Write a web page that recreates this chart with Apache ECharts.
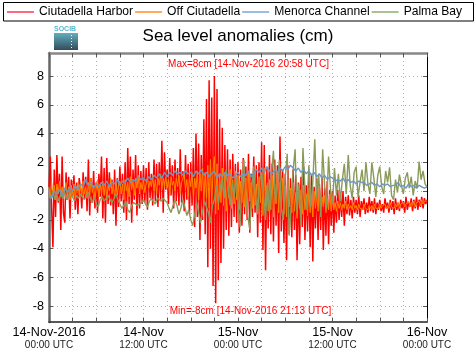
<!DOCTYPE html>
<html><head><meta charset="utf-8">
<script src="https://cdn.jsdelivr.net/npm/echarts@6/dist/echarts.min.js"></script>
<style>html,body{margin:0;padding:0;background:#fff}#c{width:476px;height:359px}</style>
</head><body><div id="c"></div>
<script>
// hours since 14-Nov-2016 00:00 UTC; values in cm
const seriesNames = ['Ciutadella Harbor', 'Off Ciutadella', 'Menorca Channel', 'Palma Bay'];
const sampleMinutes = [10, 10, 20, 15];

const ciutadellaHarbor = [
 0.3, 2.4, -1.2, -3.9, 1.5, -1.8,
 2.5, -0.8, 1.2, -2.7, 2.4, -1.5,
 -2.2, 1.3, -0.6, 1.0, -1.9, 0.8,
 -0.4, 1.1, -1.3, 0.6, -1.6, 0.9,
 0.2, -1.2, 1.3, -0.5, 1.0, -1.4,
 2.2, -1.7, 0.9, -0.8, 1.4, -1.2,
 0.6, -1.5, 1.2, -0.4, 2.4, -1.9,
 1.6, -2.2, 2.3, -0.9, 1.3, -1.0,
 0.8, -1.6, 1.5, -2.4, 0.9, -1.1,
 1.7, -0.7, 1.2, -1.5, 2.0, -2.0,
 3.0, -0.9, 2.4, -2.2, 1.5, -0.6,
 2.5, -1.7, 1.8, -1.2, 1.4, -0.9,
 1.8, -0.8, 1.6, -1.3, 2.0, -0.5,
 1.2, -1.0, 2.2, -0.7, 1.9, -1.1,
 2.0, -0.6, 3.5, -1.5, 2.7, 0.1,
 1.5, -0.9, 2.3, -0.3, 1.8, -1.2,
 2.2, -0.7, 1.6, -1.0, 2.9, -0.8,
 1.4, -1.4, 2.5, -0.6, 1.9, -1.6,
 2.0, -1.0, 3.0, -2.5, 4.0, -1.8,
 3.3, -3.4, 2.5, -2.0, 5.0, -3.0,
 6.4, -5.3, 7.7, -4.0, 6.5, -6.6,
 8.0, -7.8, 7.1, -6.2, 5.0, -5.0,
 4.4, -4.0, 3.2, -2.7, 2.9, -3.1,
 2.2, -2.5, 2.6, -1.8, 1.9, -2.2,
 2.0, -2.9, 1.5, -2.4, 2.3, -1.6,
 1.7, -2.0, 2.6, -2.9, 1.2, -1.8,
 2.4, -1.5, 1.8, -3.2, 2.0, -2.2,
 3.4, -4.1, 3.2, -5.5, 1.6, -2.6,
 2.5, -3.0, 1.9, -3.5, 2.2, -2.4,
 1.8, -4.3, 3.8, -2.8, 1.5, -3.6,
 1.2, -4.8, 1.8, -3.0, 0.9, -3.2,
 1.5, -2.7, 1.1, -4.8, 0.6, -3.7,
 1.0, -2.5, 1.7, -3.4, 0.4, -2.8,
 0.8, -3.9, 1.2, -4.9, 0.3, -2.6,
 0.9, -3.4, 0.5, -2.7, 1.0, -4.1,
 0.2, -3.1, 0.7, -3.7, 0.1, -2.4,
 0.0, -2.9, -0.3, -2.2, 0.1, -2.0,
 -0.2, -1.8, 0.0, -2.4, -0.4, -1.6,
 -0.3, -1.7, -0.6, -1.9, -0.4, -1.5,
 -0.6, -1.6, -0.3, -1.8, -0.7, -1.3,
 -0.5, -1.6, -0.8, -1.5, -0.4, -1.4,
 -0.7, -1.5, -0.5, -1.6, -0.8, -1.3,
 -0.6, -1.4, -0.9, -1.5, -0.5, -1.2,
 -0.8, -1.5, -0.6, -1.3, -0.7, -1.6,
 -0.5, -1.3, -0.8, -1.4, -0.6, -1.2,
 -0.7, -1.5, -0.4, -1.3, -0.8, -1.1,
 -0.5, -1.4, -0.6, -1.2, -0.4, -1.3,
 -0.6, -1.1, -0.4, -1.2, -0.5, -0.9,
 -0.6
];

const offCiutadella = [
 0.2, -0.5, 0.6, -0.3, 0.4, -0.6,
 0.5, -0.2, 0.7, -0.4, 0.3, -0.5,
 0.1, 0.6, -0.4, 0.3, -0.6, 0.4,
 -0.2, 0.5, -0.5, 0.2, 0.6, -0.3,
 0.4, -0.4, 0.7, -0.2, 0.3, -0.5,
 0.6, -0.3, 0.9, -0.1, 0.4, -0.6,
 0.2, 0.8, -0.4, 0.5, -0.2, 0.7,
 -0.3, 0.6, -0.6, 0.4, 0.0, 0.9,
 -0.2, 0.5, -0.5, 0.6, -0.3, 0.4,
 0.7, -0.2, 0.5, -0.6, 0.8, 0.0,
 0.6, -0.4, 1.0, 0.1, 0.7, -0.3,
 0.9, 0.2, 1.1, -0.2, 0.6, 0.1,
 0.8, -0.1, 0.5, 1.0, 0.2, 0.7,
 0.3, 1.1, 0.0, 0.8, -0.2, 0.9,
 0.4, 1.2, 0.1, 0.9, 0.3, 1.0,
 0.2, 0.8, -0.3, 1.0, 0.4, 0.7,
 0.0, 0.9, 0.3, 1.1, -0.2, 0.6,
 0.5, 1.2, 0.1, 0.8, -0.4, 1.0,
 0.3, 1.3, -0.5, 0.9, 0.2, 1.4,
 -0.6, 1.2, 0.0, 1.6, -0.8, 1.3,
 -0.5, 1.8, -1.2, 2.2, -0.9, 1.5,
 2.4, -1.6, 1.9, -1.3, 1.2, -0.8,
 1.6, -1.0, 1.3, -1.4, 0.9, -0.5,
 1.5, -1.2, 0.8, -0.9, 1.4, -0.6,
 1.1, -1.3, 0.7, -0.8, 1.2, -1.1,
 0.9, -1.5, 1.3, -0.7, 0.6, -1.2,
 1.4, -1.0, 0.5, -1.6, 1.0, -0.8,
 1.2, -1.7, 1.6, -1.1, 0.4, -1.4,
 0.8, -1.3, 1.1, -1.8, 0.5, -0.9,
 1.3, -1.5, 0.6, -1.2, 0.9, -1.6,
 0.4, -1.8, 0.8, -1.1, 0.2, -1.5,
 0.6, -1.4, -0.1, -1.9, 0.3, -1.2,
 0.1, -1.6, 0.4, -1.3, -0.2, -1.7,
 0.2, -1.5, -0.3, -1.8, 0.0, -1.2,
 -0.2, -1.4, 0.1, -1.6, -0.4, -1.1,
 -0.3, -1.5, -0.5, -1.3, -0.2, -1.4,
 -0.6, -1.3, -0.8, -1.4, -0.7, -1.2,
 -0.8, -1.3, -0.9, -1.2, -0.7, -1.3,
 -0.9, -1.2, -1.0, -1.3, -0.8, -1.2,
 -1.0, -1.3, -0.9, -1.2, -1.1, -1.3,
 -0.9, -1.2, -1.1, -1.3, -1.0, -1.2,
 -1.0, -1.3, -0.9, -1.2, -1.1, -1.2,
 -0.9, -1.2, -1.0, -1.1, -0.9, -1.2,
 -1.0, -1.2, -0.8, -1.1, -1.0, -1.2,
 -0.9, -1.1, -0.8, -1.2, -0.9, -1.0,
 -0.8, -1.1, -0.9, -1.0, -0.7, -1.1,
 -0.8, -1.0, -0.7, -1.1, -0.8, -0.9,
 -0.7, -1.0, -0.6, -0.9, -0.7, -0.8,
 -0.7
];

const menorcaChannel = [
 -0.3, -0.5, 0.0,  -0.2, 0.1, -0.3,  0.2, -0.1, 0.3,  0.0, 0.4, 0.1,
 0.5, 0.3, 0.8,  0.4, 0.6, 0.2,  0.5, 0.3, 0.6,  0.4, 0.7, 0.3,
 0.6, 0.5, 0.8,  0.4, 0.7, 0.6,  0.9, 0.6, 0.8,  0.7, 1.0, 0.8,
 0.9, 0.7, 1.0,  0.8, 1.1, 0.9,  1.2, 0.9, 1.3,  1.0, 1.3, 1.1,
 1.4, 1.2, 1.3,  1.1, 1.4, 1.2,  1.3, 1.0, 1.4,  1.2, 1.5, 1.1,
 1.3, 1.0, 1.2,  1.4, 0.9, 1.2,  1.0, 1.3, 1.1,  1.2, 0.9, 1.1,
 1.3, 1.0, 1.2,  1.1, 1.4, 1.0,  1.2, 1.5, 1.3,  1.6, 1.3, 1.7,
 1.4, 1.2, 1.5,  1.3, 1.6, 1.4,  1.7, 1.5, 1.8,  1.6, 1.4, 1.6,
 1.3, 1.5, 1.2,  1.4, 1.1, 1.3,  1.0, 1.2, 0.9,  1.1, 0.8, 1.0,
 0.9, 0.7, 0.8,  0.7, 0.9, 0.6,  0.8, 0.6, 0.7,  0.5, 0.7, 0.6,
 0.6, 0.4, 0.5,  0.6, 0.4, 0.5,  0.3, 0.5, 0.4,  0.5, 0.3, 0.4,
 0.4, 0.6, 0.3,  0.4, 0.2, 0.5,  0.3, 0.4, 0.2,  0.4, 0.3, 0.2,
 0.3
];

const palmaBay = [
 -0.2, -0.5, 0.0, -0.6,
 -0.3, -0.7, -0.2, -0.5,
 -0.1, -0.6, -0.3, 0.0,
 -0.4, -0.7, -0.3, -0.5,
 -0.2, -0.4, -0.6, -0.3,
 -0.1, -0.5, -0.8, -0.4,
 -0.9, -1.1, -0.6, -0.4,
 -0.7, -0.5, -0.3, -0.6,
 -0.8, -0.5, -0.2, -0.6,
 -0.9, -1.2, -1.0, -0.7,
 -1.3, -1.5, -1.0, -0.8,
 -0.7, -1.0, -1.1, -0.8,
 -0.6, -0.9, -1.1, -0.7,
 -0.5, -0.6, -0.9, -0.5,
 -0.4, -0.7, -0.5, -0.6,
 -0.8, -1.2, -1.5, -1.0,
 -0.6, -1.0, -1.6, -1.2,
 -0.6, -1.1, -1.7, -1.3,
 -2.0, -2.4, -1.6, -0.8,
 -1.5, -2.2, -1.4, -0.7,
 -0.8, -1.5, -2.2, -1.0,
 -0.6, 0.4, -0.9, 0.3,
 0.8, -0.5, 1.5, 0.2,
 -1.0, 0.6, -0.4, 1.0,
 -0.8, -2.5, 0.5, 2.2,
 -0.6, -1.8, -2.7, 0.4,
 1.7, -0.5, -1.6, 0.8,
 1.3, -0.3, -2.0, 0.6,
 -1.5, 1.2, 2.8, -0.8,
 0.5, 2.2, -1.2, -2.0,
 0.9, 2.6, -3.1, -1.0,
 1.4, 2.9, -1.5, 0.5,
 -2.4, 3.0, 0.2, -1.3,
 1.8, -1.1, 0.6, 3.6,
 -0.5, 1.2, -1.8, 2.9,
 0.4, -1.2, 2.4, 0.1,
 -0.9, 1.6, -0.3, 1.2,
 -0.7, 0.8, 1.9, -0.2,
 2.5, 0.4, -0.5, 1.3,
 1.7, -0.4, 0.6, 1.5,
 0.0, 2.0, 0.5, -0.2,
 2.0, 0.9, -0.4, 1.1,
 1.7, 0.3, -0.2, 1.4,
 0.6, 1.65, -0.3, -0.6,
 0.8, -0.1, 1.15, 0.4,
 -0.2, 0.9, 1.3, 0.2,
 1.0, -0.3, 0.7, 0.2,
 2.05, 0.8, 1.4, 0.5,
 0.3
];

const yTickValues = [-8, -6, -4, -2, 0, 2, 4, 6, 8];
const xLabelHours = [0, 12, 24, 36, 48];
const xLabelDates = ['14-Nov-2016', '14-Nov', '15-Nov', '15-Nov', '16-Nov'];
const xLabelTimes = ['00:00 UTC', '12:00 UTC', '00:00 UTC', '12:00 UTC', '00:00 UTC'];
const maxText = 'Max=8cm [14-Nov-2016 20:58 UTC]';
const minText = 'Min=-8cm [14-Nov-2016 21:13 UTC]';

const FONT = '"Liberation Sans", Arial, Helvetica, sans-serif';
const lineColors = ['#ff0000', '#ff8400', '#6f97c2', '#8a9a58'];
const legendColors = ['#ff6a80', '#ffac5c', '#9dbde0', '#a9c492'];
const lineWidths = [1.5, 1, 1.4, 1.4];

function toPairs(values, stepMin) {
  return values.map((v, i) => [i * stepMin / 60, v]);
}
const allValues = [ciutadellaHarbor, offCiutadella, menorcaChannel, palmaBay];
const drawOrder = [0, 1, 3, 2];

const chart = echarts.init(document.getElementById('c'), null, {renderer: 'canvas'});
const yMin = -9.1, yMax = 9.6;

const option = {
  animation: false,
  backgroundColor: '#fff',
  textStyle: {fontFamily: FONT},
  title: {
    text: 'Sea level anomalies (cm)', left: 'center', top: 28, padding: 0,
    textStyle: {fontSize: 17, fontWeight: 'normal', color: '#000', fontFamily: FONT}
  },
  legend: {
    left: 7, top: 6, padding: 0, itemGap: 2, itemWidth: 27, itemHeight: 2, icon: 'rect',
    textStyle: {fontSize: 12.1, color: '#000', fontFamily: FONT},
    data: seriesNames.map((n, i) => ({name: n, itemStyle: {color: legendColors[i]}}))
  },
  grid: {left: 49, right: 49, top: 53, bottom: 37},
  xAxis: [
    {
      type: 'value', min: 0, max: 48, interval: 3, position: 'bottom',
      axisLine: {onZero: false, lineStyle: {color: '#222', width: 1.5}},
      axisTick: {inside: true, length: 4, lineStyle: {color: '#555'}},
      axisLabel: {
        margin: 4, showMinLabel: true, showMaxLabel: true, hideOverlap: false,
        formatter: function (v) {
          const i = xLabelHours.indexOf(v);
          if (i < 0) return '';
          return '{d|' + xLabelDates[i] + '}\n{t|' + xLabelTimes[i] + '}';
        },
        rich: {
          d: {fontSize: 12.6, color: '#000', lineHeight: 14, fontFamily: FONT},
          t: {fontSize: 10, color: '#222', lineHeight: 11, fontFamily: FONT}
        }
      },
      splitLine: {show: true, lineStyle: {type: [1, 3], color: '#b0b0b0', width: 1}}
    },
    {
      type: 'value', min: 0, max: 48, interval: 3, position: 'top',
      axisLine: {onZero: false, lineStyle: {color: '#888', width: 2.5}},
      axisTick: {inside: true, length: 4, lineStyle: {color: '#555'}},
      axisLabel: {show: false}, splitLine: {show: false}
    }
  ],
  yAxis: [
    {
      type: 'value', min: yMin, max: yMax, position: 'left',
      axisLine: {show: true, onZero: false, lineStyle: {color: '#666', width: 2.5}},
      axisTick: {show: true, inside: true, length: 4, customValues: yTickValues, lineStyle: {color: '#555'}},
      axisLabel: {customValues: yTickValues, fontSize: 12.6, color: '#000', margin: 5, fontFamily: FONT},
      splitLine: {show: true, lineStyle: {type: [1, 3], color: '#b0b0b0', width: 1}}
    },
    {
      type: 'value', min: yMin, max: yMax, position: 'right',
      axisLine: {show: true, onZero: false, lineStyle: {color: '#000', width: 1}},
      axisTick: {show: true, inside: true, length: 4, customValues: yTickValues, lineStyle: {color: '#555'}},
      axisLabel: {show: false}, splitLine: {show: false}
    }
  ],
  series: drawOrder.map(i => ({
    name: seriesNames[i], type: 'line', xAxisIndex: 0, yAxisIndex: 0,
    data: toPairs(allValues[i], sampleMinutes[i]),
    showSymbol: false, symbol: 'none', sampling: null, silent: true,
    color: lineColors[i],
    lineStyle: {color: lineColors[i], width: lineWidths[i]},
    z: 2 + drawOrder.indexOf(i)
  })),
  graphic: [
    {type: 'rect', shape: {x: 3.5, y: 2.5, width: 470, height: 18.5},
     style: {fill: 'none', stroke: '#000', lineWidth: 1}, z: 0, silent: true},
    {type: 'text', left: 54, top: 26, style: {text: 'SOCIB', fontSize: 7, fontWeight: 'bold', fill: '#5ab9cf', fontFamily: FONT}},
    {type: 'rect', shape: {x: 54, y: 33, width: 24, height: 17},
     style: {fill: new echarts.graphic.LinearGradient(0, 0, 0, 1, [{offset: 0, color: '#62aebf'}, {offset: 1, color: '#334c5c'}])}},
    {type: 'line', shape: {x1: 71.5, y1: 35, x2: 71.5, y2: 48}, style: {stroke: '#ffffff', lineWidth: 1, lineDash: [1, 2]}},
    {type: 'text', x: 248.5, y: 64, z: 50, style: {text: maxText, fontSize: 10, fill: '#ff0000', align: 'center', verticalAlign: 'middle', fontFamily: FONT}},
    {type: 'text', x: 250.5, y: 311, z: 50, style: {text: minText, fontSize: 10, fill: '#ff0000', align: 'center', verticalAlign: 'middle', fontFamily: FONT}}
  ]
};
chart.setOption(option);
</script>
</body></html>
